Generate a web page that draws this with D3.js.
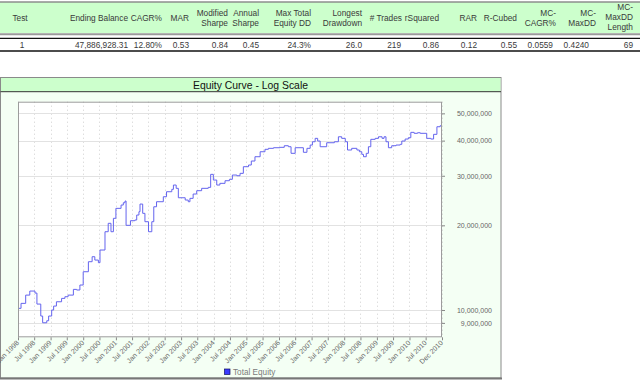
<!DOCTYPE html>
<html>
<head>
<meta charset="utf-8">
<script src="https://cdn.jsdelivr.net/npm/d3@7"></script>
<style>
  html, body { margin: 0; padding: 0; background: #fff; }
  svg { display: block; font-family: "Liberation Sans", Arial, sans-serif; }
</style>
</head>
<body>
<svg id="chart" width="640" height="382"></svg>
<script>
// ---- Data ----
const tableHeaders = [["Test"], ["Ending Balance"], ["CAGR%"], ["MAR"], ["Modified", "Sharpe"], ["Annual", "Sharpe"],
  ["Max Total", "Equity DD"], ["Longest", "Drawdown"], ["# Trades"], ["rSquared"], ["RAR"], ["R-Cubed"],
  ["MC-", "CAGR%"], ["MC-", "MaxDD"], ["MC-", "MaxDD", "Length"]];
const tableValues = ["1", "47,886,928.31", "12.80%", "0.53", "0.84", "0.45", "24.3%", "26.0", "219", "0.86",
  "0.12", "0.55", "0.0559", "0.4240", "69"];

const chartTitle = "Equity Curve - Log Scale";
const seriesName = "Total Equity";

const equityDates = [
  "1998-01-01","1998-02-04","1998-03-28","1998-05-13","1998-07-10","1998-08-01","1998-09-13","1998-10-04",
  "1998-11-19","1998-12-10","1999-01-13","1999-02-04","1999-03-07","1999-05-04","1999-06-10","1999-07-16",
  "1999-09-13","1999-10-19","1999-11-25","2000-01-01","2000-02-28","2000-04-10","2000-05-10","2000-06-19",
  "2000-07-07","2000-09-01","2000-10-07","2000-11-07","2000-12-04","2001-01-01","2001-02-28","2001-03-25",
  "2001-04-13","2001-04-25","2001-06-13","2001-08-01","2001-08-22","2001-09-16","2001-09-28","2001-10-28",
  "2001-11-22","2002-01-01","2002-02-07","2002-03-01","2002-04-01","2002-06-16","2002-07-22","2002-09-19",
  "2002-10-07","2002-11-07","2002-12-01","2003-02-16","2003-03-22","2003-04-10","2003-05-16","2003-06-25",
  "2003-08-19","2003-11-01","2003-11-28","2003-12-28","2004-02-04","2004-03-10","2004-05-07","2004-06-25",
  "2004-07-28","2004-09-16","2004-10-22","2004-11-28","2005-01-25","2005-02-25","2005-04-07","2005-06-04",
  "2005-07-28","2005-09-04","2005-11-01","2006-01-13","2006-03-01","2006-04-16","2006-05-16","2006-07-01",
  "2006-10-01","2006-11-10","2006-12-16","2007-01-10","2007-02-10","2007-03-10","2007-04-07","2007-06-19",
  "2007-09-13","2007-10-28","2007-12-04","2008-01-13","2008-02-07","2008-03-25","2008-05-22","2008-06-19",
  "2008-07-16","2008-08-04","2008-09-04","2008-09-28","2008-10-25","2008-12-13","2009-01-19","2009-02-28",
  "2009-03-22","2009-04-13","2009-05-10","2009-06-16","2009-08-04","2009-09-19","2009-10-07","2009-11-13",
  "2009-12-19","2010-01-16","2010-02-22","2010-04-01","2010-05-01","2010-07-13","2010-08-28","2010-09-28",
  "2010-11-04","2010-12-10","2010-12-31"
];
const equityValues = [ // millions
  10.14,10.56,11.30,11.68,11.49,10.50,9.52,9.01,
  9.16,9.52,10.00,10.33,10.70,11.00,11.15,11.30,
  11.84,11.78,12.27,13.68,14.85,15.47,15.05,14.73,
  16.34,18.98,20.33,18.98,21.18,22.98,23.61,24.06,
  24.40,20.00,20.77,20.89,21.76,22.36,23.80,22.06,
  20.60,18.98,20.60,23.28,24.26,25.27,26.33,26.85,
  27.81,27.07,25.06,24.60,24.26,24.94,25.84,26.55,
  27.07,27.29,30.35,28.97,27.81,28.20,28.81,29.14,
  30.18,30.01,30.60,32.31,32.76,33.85,35.06,36.52,
  37.25,37.55,37.74,37.86,38.36,38.05,36.05,37.74,
  36.35,37.55,38.58,39.63,40.75,39.86,38.05,39.31,
  39.63,41.28,40.75,39.63,37.04,37.55,37.04,36.52,
  35.75,35.06,36.05,38.05,40.42,40.75,41.28,40.75,
  41.28,39.63,37.74,38.36,38.58,38.80,39.86,40.52,
  40.96,42.80,42.46,42.66,42.46,40.75,40.52,42.11,
  44.81,45.18,45.18
];
const yTickValues = [9000000, 10000000, 20000000, 30000000, 40000000, 50000000];
const xTickLabels = ["Jan 1998","Jul 1998","Jan 1999","Jul 1999","Jan 2000","Jul 2000","Jan 2001","Jul 2001",
  "Jan 2002","Jul 2002","Jan 2003","Jul 2003","Jan 2004","Jul 2004","Jan 2005","Jul 2005","Jan 2006","Jul 2006",
  "Jan 2007","Jul 2007","Jan 2008","Jul 2008","Jan 2009","Jul 2009","Jan 2010","Jul 2010","Dec 2010"];

// ---- Drawing ----
const svg = d3.select("#chart");
svg.append("rect").attr("width", 640).attr("height", 382).attr("fill", "#fff");

// Table
const tbl = svg.append("g");
tbl.append("rect").attr("x", 0).attr("y", 2.5).attr("width", 640).attr("height", 30.5).attr("fill", "#ccffcc");
tbl.append("line").attr("x1", 0).attr("x2", 640).attr("y1", 2).attr("y2", 2).attr("stroke", "#555").attr("stroke-width", 1);
tbl.append("line").attr("x1", 0).attr("x2", 640).attr("y1", 34.2).attr("y2", 34.2).attr("stroke", "#9a9a9a").attr("stroke-width", 2);
tbl.append("line").attr("x1", 0).attr("x2", 640).attr("y1", 38.3).attr("y2", 38.3).attr("stroke", "#111").attr("stroke-width", 1.3);
tbl.append("line").attr("x1", 0).attr("x2", 640).attr("y1", 51).attr("y2", 51).attr("stroke", "#111").attr("stroke-width", 1.3);

const headRight = [20, 128, 162, 189, 228, 259, 311, 362, 402, 439, 477, 517, 556, 596, 633];
const valRight  = [22, 128, 162, 189, 228, 259, 311, 362, 401, 439, 477, 517, 553, 589, 633];
const lineH = 10.3;
tableHeaders.forEach((lines, i) => {
  const n = lines.length;
  const startY = 21 - (n - 1) * lineH / 2 - (n === 3 ? 1 : 0);
  lines.forEach((t, j) => {
    tbl.append("text")
      .attr("x", headRight[i]).attr("y", startY + j * lineH)
      .attr("text-anchor", i === 0 ? "middle" : "end")
      .attr("font-size", 8.3).attr("fill", "#3a3a3a").text(t);
  });
});
tableValues.forEach((v, i) => {
  tbl.append("text")
    .attr("x", valRight[i]).attr("y", 48.2)
    .attr("text-anchor", i === 0 ? "middle" : "end")
    .attr("font-size", 8.3).attr("fill", "#3a3a3a").text(v);
});

// Chart panel
const panel = svg.append("g");
panel.append("rect").attr("x", 0.5).attr("y", 77.5).attr("width", 500.5).attr("height", 300.5)
  .attr("fill", "#f4fff4").attr("stroke", "#8a8a8a").attr("stroke-width", 1);
panel.append("rect").attr("x", 1).attr("y", 78).attr("width", 499.5).attr("height", 13.5).attr("fill", "#ccffcc");
panel.append("line").attr("x1", 0.5).attr("x2", 501).attr("y1", 91.7).attr("y2", 91.7).attr("stroke", "#333").attr("stroke-width", 1);
panel.append("line").attr("x1", 0).attr("x2", 502).attr("y1", 378.5).attr("y2", 378.5).attr("stroke", "#777").attr("stroke-width", 2);
panel.append("text").attr("x", 250.5).attr("y", 88.6).attr("text-anchor", "middle")
  .attr("font-size", 10.4).attr("fill", "#111").text(chartTitle);

const plot = { left: 18, right: 442, top: 101.7, bottom: 337.3 };
const parse = d3.timeParse("%Y-%m-%d");
const data = equityDates.map((d, i) => ({ date: parse(d), value: equityValues[i] * 1e6 }));

const x = d3.scaleTime()
  .domain([parse("1998-01-01"), parse("2010-12-31")])
  .range([plot.left, plot.right]);
const y = d3.scaleLog()
  .domain([8.0e6, 55e6])
  .range([plot.bottom, plot.top]);

const xTickDates = xTickLabels.map(s => {
  if (s === "Dec 2010") return parse("2010-12-31");
  return d3.timeParse("%b %Y")(s);
});

svg.append("rect").attr("x", plot.left).attr("y", plot.top)
  .attr("width", plot.right - plot.left).attr("height", plot.bottom - plot.top).attr("fill", "#fff");

// grid
const grid = svg.append("g");
grid.selectAll("line.v").data(xTickDates).join("line")
  .attr("x1", d => Math.round(x(d)) + 0.5).attr("x2", d => Math.round(x(d)) + 0.5)
  .attr("y1", plot.top).attr("y2", plot.bottom)
  .attr("stroke", "#cfcfcf").attr("stroke-dasharray", "1,3");
grid.selectAll("line.h").data(yTickValues).join("line")
  .attr("x1", plot.left).attr("x2", plot.right)
  .attr("y1", d => Math.round(y(d)) + 0.5).attr("y2", d => Math.round(y(d)) + 0.5)
  .attr("stroke", "#e2e2e2");

// line
svg.append("path").datum(data)
  .attr("fill", "none").attr("stroke", "#6464ee").attr("stroke-width", 1)
  .attr("d", d3.line().x(d => x(d.date)).y(d => y(d.value)).curve(d3.curveStepAfter));

// border
svg.append("rect").attr("x", plot.left + 0.5).attr("y", plot.top + 0.5)
  .attr("width", plot.right - plot.left - 1).attr("height", plot.bottom - plot.top - 1)
  .attr("fill", "none").attr("stroke", "#9c9c9c");

// y axis (right)
const yAxis = d3.axisRight(y).tickValues(yTickValues).tickSize(3).tickPadding(14)
  .tickFormat(d3.format(",.0f"));
const yg = svg.append("g").attr("transform", `translate(${plot.right},0)`).call(yAxis);
yg.select(".domain").remove();
yg.selectAll(".tick line").attr("stroke", "#888");
yg.selectAll(".tick text").attr("font-size", 7).attr("fill", "#666")
  .attr("text-anchor", "end").attr("x", 50).attr("font-family", "Liberation Sans, Arial, sans-serif");

// x axis
const xAxis = d3.axisBottom(x).tickValues(xTickDates).tickSize(3)
  .tickFormat((d, i) => xTickLabels[i]);
const xg = svg.append("g").attr("transform", `translate(0,${plot.bottom})`).call(xAxis);
xg.select(".domain").remove();
xg.selectAll(".tick line").attr("stroke", "#888");
xg.selectAll(".tick text").attr("font-size", 7).attr("fill", "#666")
  .attr("font-family", "Liberation Sans, Arial, sans-serif")
  .attr("text-anchor", "end").attr("dy", null).attr("y", 0)
  .attr("transform", "translate(1,6) rotate(-45)");

// legend
svg.append("rect").attr("x", 224.5).attr("y", 369).attr("width", 5.5).attr("height", 5.5)
  .attr("fill", "#3a3aff").attr("stroke", "#101060").attr("stroke-width", 0.7);
svg.append("text").attr("x", 233).attr("y", 375).attr("font-size", 8.2).attr("fill", "#7a7a7a").text(seriesName);
</script>
</body>
</html>
